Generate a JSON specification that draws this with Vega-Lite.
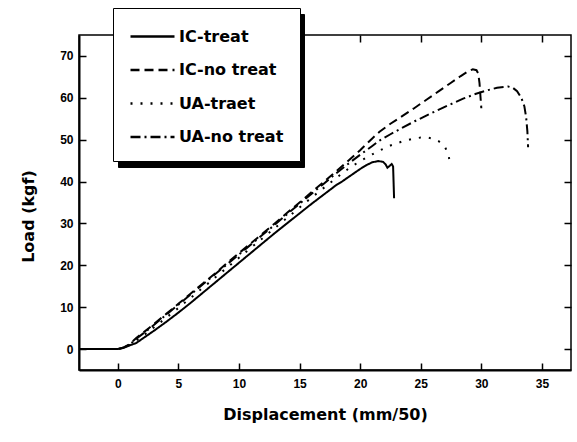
{
  "$schema": "https://vega.github.io/schema/vega-lite/v6.json",
  "autosize": {"type": "none"},
  "width": 492,
  "height": 335,
  "padding": {"left": 79, "top": 35, "right": 6, "bottom": 72},
  "background": "white",
  "config": {
    "view": {"stroke": "black", "strokeWidth": 1.5},
    "axis": {"grid": false, "zindex": 1, "labelFont": "Liberation Sans", "labelFontWeight": "bold", "labelFontSize": 12, "labelColor": "black", "titleFont": "DejaVu Sans", "titleFontWeight": "bold", "titleFontSize": 16, "titleColor": "black", "tickColor": "black", "domainColor": "black", "tickSize": 7, "tickWidth": 1.5, "domainWidth": 2}
  },
  "datasets": {
    "curves": [
      {"s": "IC-treat", "x": -3.2, "y": 0}, {"s": "IC-treat", "x": -2, "y": 0}, {"s": "IC-treat", "x": -1, "y": 0}, {"s": "IC-treat", "x": 0, "y": 0},
      {"s": "IC-treat", "x": 0.5, "y": 0.3}, {"s": "IC-treat", "x": 1, "y": 0.9}, {"s": "IC-treat", "x": 1.5, "y": 1.4}, {"s": "IC-treat", "x": 2, "y": 2.4},
      {"s": "IC-treat", "x": 3, "y": 4.4}, {"s": "IC-treat", "x": 4, "y": 6.5}, {"s": "IC-treat", "x": 5, "y": 8.7}, {"s": "IC-treat", "x": 6, "y": 11.0},
      {"s": "IC-treat", "x": 7, "y": 13.4}, {"s": "IC-treat", "x": 8, "y": 15.8}, {"s": "IC-treat", "x": 9, "y": 18.2}, {"s": "IC-treat", "x": 10, "y": 20.6},
      {"s": "IC-treat", "x": 11, "y": 23.0}, {"s": "IC-treat", "x": 12, "y": 25.4}, {"s": "IC-treat", "x": 13, "y": 27.8}, {"s": "IC-treat", "x": 14, "y": 30.1},
      {"s": "IC-treat", "x": 15, "y": 32.4}, {"s": "IC-treat", "x": 16, "y": 34.7}, {"s": "IC-treat", "x": 17, "y": 36.9}, {"s": "IC-treat", "x": 18, "y": 39.1},
      {"s": "IC-treat", "x": 18.5, "y": 40.0}, {"s": "IC-treat", "x": 19, "y": 41.0}, {"s": "IC-treat", "x": 19.5, "y": 42.0}, {"s": "IC-treat", "x": 20, "y": 43.0},
      {"s": "IC-treat", "x": 20.5, "y": 43.9}, {"s": "IC-treat", "x": 21, "y": 44.6}, {"s": "IC-treat", "x": 21.5, "y": 44.9}, {"s": "IC-treat", "x": 21.9, "y": 44.7},
      {"s": "IC-treat", "x": 22.1, "y": 44.1}, {"s": "IC-treat", "x": 22.25, "y": 43.3}, {"s": "IC-treat", "x": 22.45, "y": 43.8}, {"s": "IC-treat", "x": 22.6, "y": 44.2},
      {"s": "IC-treat", "x": 22.72, "y": 43.6}, {"s": "IC-treat", "x": 22.8, "y": 36.0},

      {"s": "IC-no treat", "x": -3.2, "y": 0}, {"s": "IC-no treat", "x": 0, "y": 0}, {"s": "IC-no treat", "x": 0.5, "y": 0.4}, {"s": "IC-no treat", "x": 1, "y": 1.2},
      {"s": "IC-no treat", "x": 1.5, "y": 2.6}, {"s": "IC-no treat", "x": 2, "y": 3.7}, {"s": "IC-no treat", "x": 3, "y": 6.0}, {"s": "IC-no treat", "x": 4, "y": 8.4},
      {"s": "IC-no treat", "x": 5, "y": 10.8}, {"s": "IC-no treat", "x": 6, "y": 13.2}, {"s": "IC-no treat", "x": 7, "y": 15.6}, {"s": "IC-no treat", "x": 8, "y": 18.0},
      {"s": "IC-no treat", "x": 9, "y": 20.5}, {"s": "IC-no treat", "x": 10, "y": 22.9}, {"s": "IC-no treat", "x": 11, "y": 25.3}, {"s": "IC-no treat", "x": 12, "y": 27.7},
      {"s": "IC-no treat", "x": 13, "y": 30.1}, {"s": "IC-no treat", "x": 14, "y": 32.6}, {"s": "IC-no treat", "x": 15, "y": 35.0}, {"s": "IC-no treat", "x": 16, "y": 37.5},
      {"s": "IC-no treat", "x": 17, "y": 39.9}, {"s": "IC-no treat", "x": 18, "y": 42.4}, {"s": "IC-no treat", "x": 19, "y": 44.9}, {"s": "IC-no treat", "x": 20, "y": 47.5},
      {"s": "IC-no treat", "x": 21, "y": 50.3}, {"s": "IC-no treat", "x": 21.6, "y": 51.9}, {"s": "IC-no treat", "x": 22.5, "y": 53.8}, {"s": "IC-no treat", "x": 23.5, "y": 55.7},
      {"s": "IC-no treat", "x": 24.4, "y": 57.4}, {"s": "IC-no treat", "x": 25.5, "y": 59.6}, {"s": "IC-no treat", "x": 26.5, "y": 61.6}, {"s": "IC-no treat", "x": 27.5, "y": 63.6},
      {"s": "IC-no treat", "x": 28.3, "y": 65.2}, {"s": "IC-no treat", "x": 28.9, "y": 66.3}, {"s": "IC-no treat", "x": 29.3, "y": 66.8}, {"s": "IC-no treat", "x": 29.6, "y": 66.6},
      {"s": "IC-no treat", "x": 29.75, "y": 65.8}, {"s": "IC-no treat", "x": 29.85, "y": 63.5}, {"s": "IC-no treat", "x": 30.0, "y": 57.5},

      {"s": "UA-traet", "x": -3.2, "y": 0}, {"s": "UA-traet", "x": 0, "y": 0}, {"s": "UA-traet", "x": 0.5, "y": 0.3}, {"s": "UA-traet", "x": 1, "y": 1.0},
      {"s": "UA-traet", "x": 1.5, "y": 2.0}, {"s": "UA-traet", "x": 2, "y": 3.0}, {"s": "UA-traet", "x": 3, "y": 5.2}, {"s": "UA-traet", "x": 4, "y": 7.5},
      {"s": "UA-traet", "x": 5, "y": 9.8}, {"s": "UA-traet", "x": 6, "y": 12.2}, {"s": "UA-traet", "x": 7, "y": 14.6}, {"s": "UA-traet", "x": 8, "y": 17.0},
      {"s": "UA-traet", "x": 9, "y": 19.4}, {"s": "UA-traet", "x": 10, "y": 21.8}, {"s": "UA-traet", "x": 11, "y": 24.2}, {"s": "UA-traet", "x": 12, "y": 26.6},
      {"s": "UA-traet", "x": 13, "y": 29.0}, {"s": "UA-traet", "x": 14, "y": 31.4}, {"s": "UA-traet", "x": 15, "y": 33.8}, {"s": "UA-traet", "x": 16, "y": 36.2},
      {"s": "UA-traet", "x": 17, "y": 38.5}, {"s": "UA-traet", "x": 18, "y": 40.8}, {"s": "UA-traet", "x": 19, "y": 43.0}, {"s": "UA-traet", "x": 20, "y": 44.9},
      {"s": "UA-traet", "x": 21, "y": 46.5}, {"s": "UA-traet", "x": 21.6, "y": 47.4}, {"s": "UA-traet", "x": 22.5, "y": 48.6}, {"s": "UA-traet", "x": 23.5, "y": 49.6},
      {"s": "UA-traet", "x": 24.3, "y": 50.2}, {"s": "UA-traet", "x": 25, "y": 50.5}, {"s": "UA-traet", "x": 25.6, "y": 50.5}, {"s": "UA-traet", "x": 26.1, "y": 50.2},
      {"s": "UA-traet", "x": 26.5, "y": 49.6}, {"s": "UA-traet", "x": 27.0, "y": 48.3}, {"s": "UA-traet", "x": 27.3, "y": 46.3}, {"s": "UA-traet", "x": 27.45, "y": 43.5},

      {"s": "UA-no treat", "x": -3.2, "y": 0}, {"s": "UA-no treat", "x": 0, "y": 0}, {"s": "UA-no treat", "x": 0.5, "y": 0.4}, {"s": "UA-no treat", "x": 1, "y": 1.1},
      {"s": "UA-no treat", "x": 1.5, "y": 2.4}, {"s": "UA-no treat", "x": 2, "y": 3.5}, {"s": "UA-no treat", "x": 3, "y": 5.8}, {"s": "UA-no treat", "x": 4, "y": 8.2},
      {"s": "UA-no treat", "x": 5, "y": 10.6}, {"s": "UA-no treat", "x": 6, "y": 13.0}, {"s": "UA-no treat", "x": 7, "y": 15.4}, {"s": "UA-no treat", "x": 8, "y": 17.8},
      {"s": "UA-no treat", "x": 9, "y": 20.2}, {"s": "UA-no treat", "x": 10, "y": 22.6}, {"s": "UA-no treat", "x": 11, "y": 25.0}, {"s": "UA-no treat", "x": 12, "y": 27.4},
      {"s": "UA-no treat", "x": 13, "y": 29.8}, {"s": "UA-no treat", "x": 14, "y": 32.3}, {"s": "UA-no treat", "x": 15, "y": 34.7}, {"s": "UA-no treat", "x": 16, "y": 37.1},
      {"s": "UA-no treat", "x": 17, "y": 39.5}, {"s": "UA-no treat", "x": 18, "y": 41.9}, {"s": "UA-no treat", "x": 19, "y": 44.2}, {"s": "UA-no treat", "x": 20, "y": 46.4},
      {"s": "UA-no treat", "x": 21, "y": 48.5}, {"s": "UA-no treat", "x": 21.6, "y": 49.8}, {"s": "UA-no treat", "x": 22.5, "y": 51.3}, {"s": "UA-no treat", "x": 23.5, "y": 52.9},
      {"s": "UA-no treat", "x": 24.5, "y": 54.4}, {"s": "UA-no treat", "x": 25.5, "y": 55.8}, {"s": "UA-no treat", "x": 26.5, "y": 57.2}, {"s": "UA-no treat", "x": 27.5, "y": 58.5},
      {"s": "UA-no treat", "x": 28.5, "y": 59.8}, {"s": "UA-no treat", "x": 29.5, "y": 60.9}, {"s": "UA-no treat", "x": 30.5, "y": 61.8}, {"s": "UA-no treat", "x": 31.3, "y": 62.4},
      {"s": "UA-no treat", "x": 32.2, "y": 62.7}, {"s": "UA-no treat", "x": 32.6, "y": 62.4}, {"s": "UA-no treat", "x": 32.95, "y": 61.6}, {"s": "UA-no treat", "x": 33.3, "y": 60.0},
      {"s": "UA-no treat", "x": 33.55, "y": 58.0}, {"s": "UA-no treat", "x": 33.7, "y": 55.3}, {"s": "UA-no treat", "x": 33.8, "y": 52.0}, {"s": "UA-no treat", "x": 33.86, "y": 48.2}
    ]
  },
  "data": {"name": "curves"},
  "layer": [
    {
      "mark": {"type": "line", "color": "black", "strokeWidth": 2, "clip": true},
      "encoding": {
        "x": {"field": "x", "type": "quantitative", "scale": {"domain": [-3.2, 37.4], "nice": false, "zero": false},
              "axis": {"values": [0, 5, 10, 15, 20, 25, 30, 35], "ticks": false, "title": "Displacement  (mm/50)", "labelPadding": 8, "titleY": 49, "titleBaseline": "alphabetic", "titleAnchor": "middle"}},
        "y": {"field": "y", "type": "quantitative", "scale": {"domain": [-5, 75], "nice": false, "zero": false},
              "axis": {"values": [0, 10, 20, 30, 40, 50, 60, 70], "ticks": false, "title": "Load  (kgf)", "labelPadding": 6, "titleX": -45.5, "titleY": 181, "titleAlign": "center", "titleBaseline": "alphabetic", "titleAngle": -90}},
        "strokeDash": {"field": "s", "type": "nominal",
              "scale": {"domain": ["IC-treat", "IC-no treat", "UA-traet", "UA-no treat"], "range": [[1, 0], [9, 5], [2, 8], [10, 4, 2, 4]]},
              "legend": {"title": null, "orient": "none", "legendX": 34, "legendY": -27, "zindex": 2, "symbolType": "M-2,0H2", "symbolSize": 484, "symbolStrokeWidth": 2.5, "symbolStrokeColor": "black",
                         "labelFont": "DejaVu Sans", "labelFontWeight": "bold", "labelFontSize": 16, "labelColor": "black", "labelOffset": 14, "symbolOffset": 11,
                         "strokeColor": "black", "fillColor": "white", "padding": 16, "rowPadding": 12.5}}
      }
    },
    {
      "mark": {"type": "point", "opacity": 0},
      "encoding": {
        "x": {"field": "x", "type": "quantitative", "axis": {"orient": "top", "offset": -335, "values": [0, 5, 10, 15, 20, 25, 30, 35], "labels": false, "title": null, "domain": false}},
        "y": {"field": "y", "type": "quantitative", "axis": {"orient": "right", "offset": -492, "values": [0, 10, 20, 30, 40, 50, 60, 70], "labels": false, "title": null, "domain": false}},
        "shape": {"field": "s", "type": "nominal",
              "scale": {"range": ["M-2,0H2", "M-2,0H2", "M-2,0H2", "M-2,0H2"]},
              "legend": {"title": null, "orient": "none", "legendX": 39, "legendY": -21, "zindex": 1, "symbolSize": 484, "symbolStrokeWidth": 2.5, "symbolStrokeColor": "black",
                         "labelExpr": "''", "labelFont": "DejaVu Sans", "labelFontWeight": "bold", "labelFontSize": 16, "labelColor": "black", "labelOffset": 118, "symbolOffset": 11,
                         "strokeColor": "black", "fillColor": "black", "padding": 16, "rowPadding": 12.5}}
      }
    },
    {
      "mark": {"type": "point", "opacity": 0},
      "encoding": {
        "x": {"field": "x", "type": "quantitative", "axis": {"orient": "bottom", "offset": -335, "values": [0, 5, 10, 15, 20, 25, 30, 35], "labels": false, "title": null, "domain": false}},
        "y": {"field": "y", "type": "quantitative", "axis": {"orient": "left", "offset": -492, "values": [0, 10, 20, 30, 40, 50, 60, 70], "labels": false, "title": null, "domain": false}}
      }
    }
  ],
  "resolve": {"axis": {"x": "independent", "y": "independent"}}
}
